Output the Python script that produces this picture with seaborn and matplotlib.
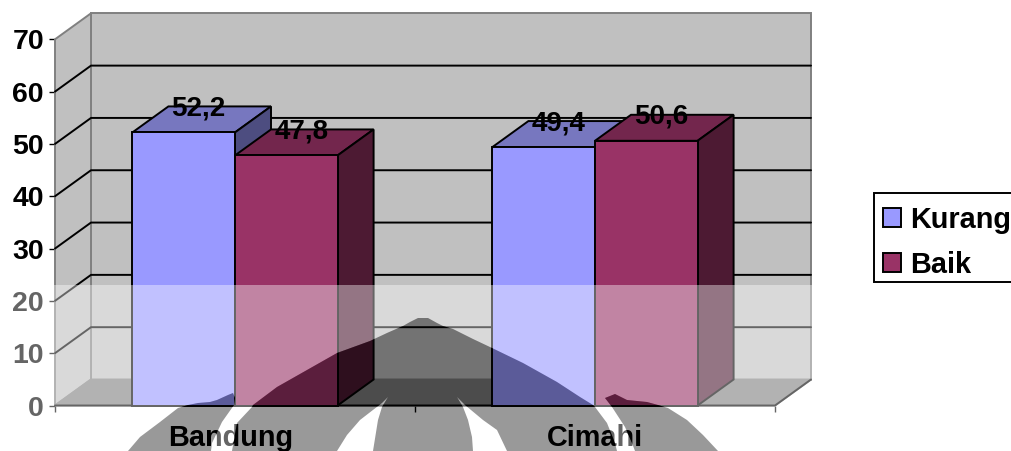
import matplotlib
matplotlib.use("Agg")
import matplotlib.pyplot as plt
import numpy as np
import pandas as pd
import seaborn as sns
from matplotlib.patches import Polygon, PathPatch, Rectangle
from matplotlib.path import Path
from matplotlib.transforms import Affine2D

regions = ["Bandung", "Cimahi"]
kurang = [52.2, 49.4]
baik = [47.8, 50.6]
series_names = ["Kurang", "Baik"]
y_ticks = [0, 10, 20, 30, 40, 50, 60, 70]

W, H, DPI = 1012, 451, 100
FRONT = {"Kurang": "#9999FF", "Baik": "#993366"}
TOP = {"Kurang": "#7777BF", "Baik": "#73264D"}
SIDE = {"Kurang": "#4D4D80", "Baik": "#4D1A33"}
EDGE_W = 1.4

sns.set_style("white")
plt.rcParams["font.family"] = ["Liberation Sans", "DejaVu Sans"]
plt.rcParams["font.weight"] = "bold"
plt.rcParams["text.color"] = "black"

df = pd.DataFrame({
    "region": regions * 2,
    "series": [series_names[0]] * 2 + [series_names[1]] * 2,
    "value": kurang + baik,
})

fig = plt.figure(figsize=(W / DPI, H / DPI), dpi=DPI, facecolor="white")
# Front plane of the pseudo-3D box, in pixels from the page edges
left, right, y_base, y_top = 55, 775, 405.5, 39.3
ax = fig.add_axes([left / W, 1 - y_base / H, (right - left) / W, (y_base - y_top) / H])
ax.patch.set_visible(False)

sns.barplot(data=df, x="region", y="value", hue="series", order=regions,
            hue_order=series_names, palette=FRONT, width=0.57, gap=0,
            edgecolor="black", linewidth=EDGE_W, saturation=1, ax=ax, legend=False)

x0, x1 = -0.5, 1.5
ax.set_xlim(x0, x1)
ax.set_ylim(0, 70)
sns.despine(ax=ax, left=True, bottom=True, top=True, right=True)

# Depth of the box expressed in data units
dx = 36 / ((right - left) / (x1 - x0))
dy = 26 / ((y_base - y_top) / 70)

wall_grey, floor_grey, rim = "#C0C0C0", "#808080", "#808080"
ax.add_patch(Polygon([(x0 + dx, dy), (x1 + dx, dy), (x1 + dx, 70 + dy), (x0 + dx, 70 + dy)],
                     closed=True, fc=wall_grey, ec=rim, lw=EDGE_W, clip_on=False, zorder=0.5))
ax.add_patch(Polygon([(x0, 0), (x0 + dx, dy), (x0 + dx, 70 + dy), (x0, 70)],
                     closed=True, fc=wall_grey, ec=rim, lw=EDGE_W, clip_on=False, zorder=0.6))
ax.add_patch(Polygon([(x0, 0), (x1, 0), (x1 + dx, dy), (x0 + dx, dy)],
                     closed=True, fc=floor_grey, ec=rim, lw=EDGE_W, clip_on=False, zorder=0.7))
ax.plot([x0, x1, x1 + dx], [0, 0, dy], color="black", lw=EDGE_W, clip_on=False, zorder=0.8)

# Gridlines run across the back wall and down the side wall
for v in y_ticks[1:-1]:
    ax.plot([x0, x0 + dx, x1 + dx], [v, v + dy, v + dy], color="black", lw=EDGE_W,
            clip_on=False, zorder=0.8)

# Give every seaborn bar its top and side faces, working left to right
bars = []
for name, container in zip(series_names, ax.containers):
    for bar in container:
        bars.append((bar, name))
bars.sort(key=lambda item: item[0].get_x())
for i, (bar, name) in enumerate(bars):
    z = 3 + i * 0.1
    bx, bw, bh = bar.get_x(), bar.get_width(), bar.get_height()
    ax.add_patch(Polygon([(bx, bh), (bx + dx, bh + dy), (bx + bw + dx, bh + dy), (bx + bw, bh)],
                         closed=True, fc=TOP[name], ec="black", lw=EDGE_W, clip_on=False, zorder=z))
    ax.add_patch(Polygon([(bx + bw, 0), (bx + bw + dx, dy), (bx + bw + dx, bh + dy), (bx + bw, bh)],
                         closed=True, fc=SIDE[name], ec="black", lw=EDGE_W, clip_on=False, zorder=z))
    bar.set_zorder(z + 0.01)
    bar.set_clip_on(False)
    ax.annotate(f"{bh:.1f}".replace(".", ","), (bx + bw / 2, bh), xytext=(15, 17),
                textcoords="offset pixels", ha="center", va="baseline", fontsize=20,
                fontweight="bold", color="black", zorder=10, annotation_clip=False)

ax.set_xlabel("")
ax.set_ylabel("")
ax.set_yticks(y_ticks)
ax.set_xticks([0, 1], labels=regions)
ax.set_xticks([x0, 0.5, x1], minor=True)
ax.tick_params(axis="y", which="major", left=True, length=4, width=1, color="black",
               labelsize=20.5, pad=4)
ax.tick_params(axis="x", which="major", bottom=False, labelsize=20.8, pad=9.5)
ax.tick_params(axis="x", which="minor", bottom=True, length=4, width=1, color="black")
for t in ax.get_xticklabels() + ax.get_yticklabels():
    t.set_fontweight("bold")
    t.set_color("black")
first_label = ax.get_xticklabels()[0]
first_label.set_transform(first_label.get_transform() + Affine2D().translate(-4, 0))

page_px = Affine2D().scale(1, -1).translate(0, H)

# Legend box runs off the right side of the page; its frame is drawn separately
ax.add_patch(Rectangle((874, 193), 150, 89, fc="white", ec="black", lw=EDGE_W,
                       transform=page_px, clip_on=False, zorder=19))
handles = [c.patches[0] if hasattr(c, "patches") else c for c in ax.containers]
leg = ax.legend(handles, series_names, loc="upper left",
                bbox_to_anchor=(874 / W, 1 - 197 / H), bbox_transform=fig.transFigure,
                borderaxespad=0, fontsize=20.8, frameon=False,
                handlelength=0.62, handleheight=0.62, labelcolor="black",
                handletextpad=0.33, borderpad=0.31, labelspacing=0.59)
leg.set_zorder(20)

# Watermark crest stamped over the lower part of the page
crest_pieces = [
    [(128, 451), (140, 437), (160, 422), (178, 408), (188, 405), (198, 403), (210, 402),
     (217, 400), (228, 395), (233, 393), (235, 398), (234, 405), (222, 422), (212, 443),
     (211, 451)],
    [(232, 451), (237, 423), (252, 407), (253, 405), (277, 387), (307, 370), (337, 353),
     (370, 341), (387, 333), (403, 326), (410, 322), (418, 318), (428, 318), (437, 323),
     (443, 326), (453, 329), (473, 339), (492, 348), (523, 363), (557, 382), (580, 397),
     (593, 405), (595, 407), (607, 423), (615, 443), (617, 451), (507, 451), (497, 430),
     (483, 420), (465, 405), (457, 397), (463, 407), (468, 420), (472, 437), (473, 451),
     (373, 451), (378, 420), (382, 407), (388, 397), (382, 403), (360, 420), (347, 435),
     (337, 451)],
    [(635, 451), (632, 443), (625, 427), (612, 407), (605, 398), (615, 394), (627, 400),
     (647, 402), (658, 405), (668, 408), (687, 420), (703, 435), (718, 451)],
]
band_top = 285


def signed_area(pts):
    a = np.asarray(pts, float)
    return 0.5 * np.sum(a[:, 0] * np.roll(a[:, 1], -1) - np.roll(a[:, 0], -1) * a[:, 1])


def ring(pts, positive):
    pts = list(pts)
    if (signed_area(pts) > 0) != positive:
        pts = pts[::-1]
    codes = [Path.MOVETO] + [Path.LINETO] * (len(pts) - 1) + [Path.CLOSEPOLY]
    return pts + [pts[0]], codes


verts, codes = ring([(0, band_top), (W, band_top), (W, H), (0, H)], True)
for piece in crest_pieces:
    v, c = ring(piece, False)
    verts += v
    codes += c
fig.add_artist(PathPatch(Path(verts, codes), fc="white", alpha=0.4, ec="none",
                         transform=page_px, zorder=30))
for piece in crest_pieces:
    v, c = ring(piece, True)
    fig.add_artist(PathPatch(Path(v, c), fc="black", alpha=0.4, ec="none",
                             transform=page_px, zorder=31))

fig.savefig("out.png", dpi=DPI, facecolor="white")
